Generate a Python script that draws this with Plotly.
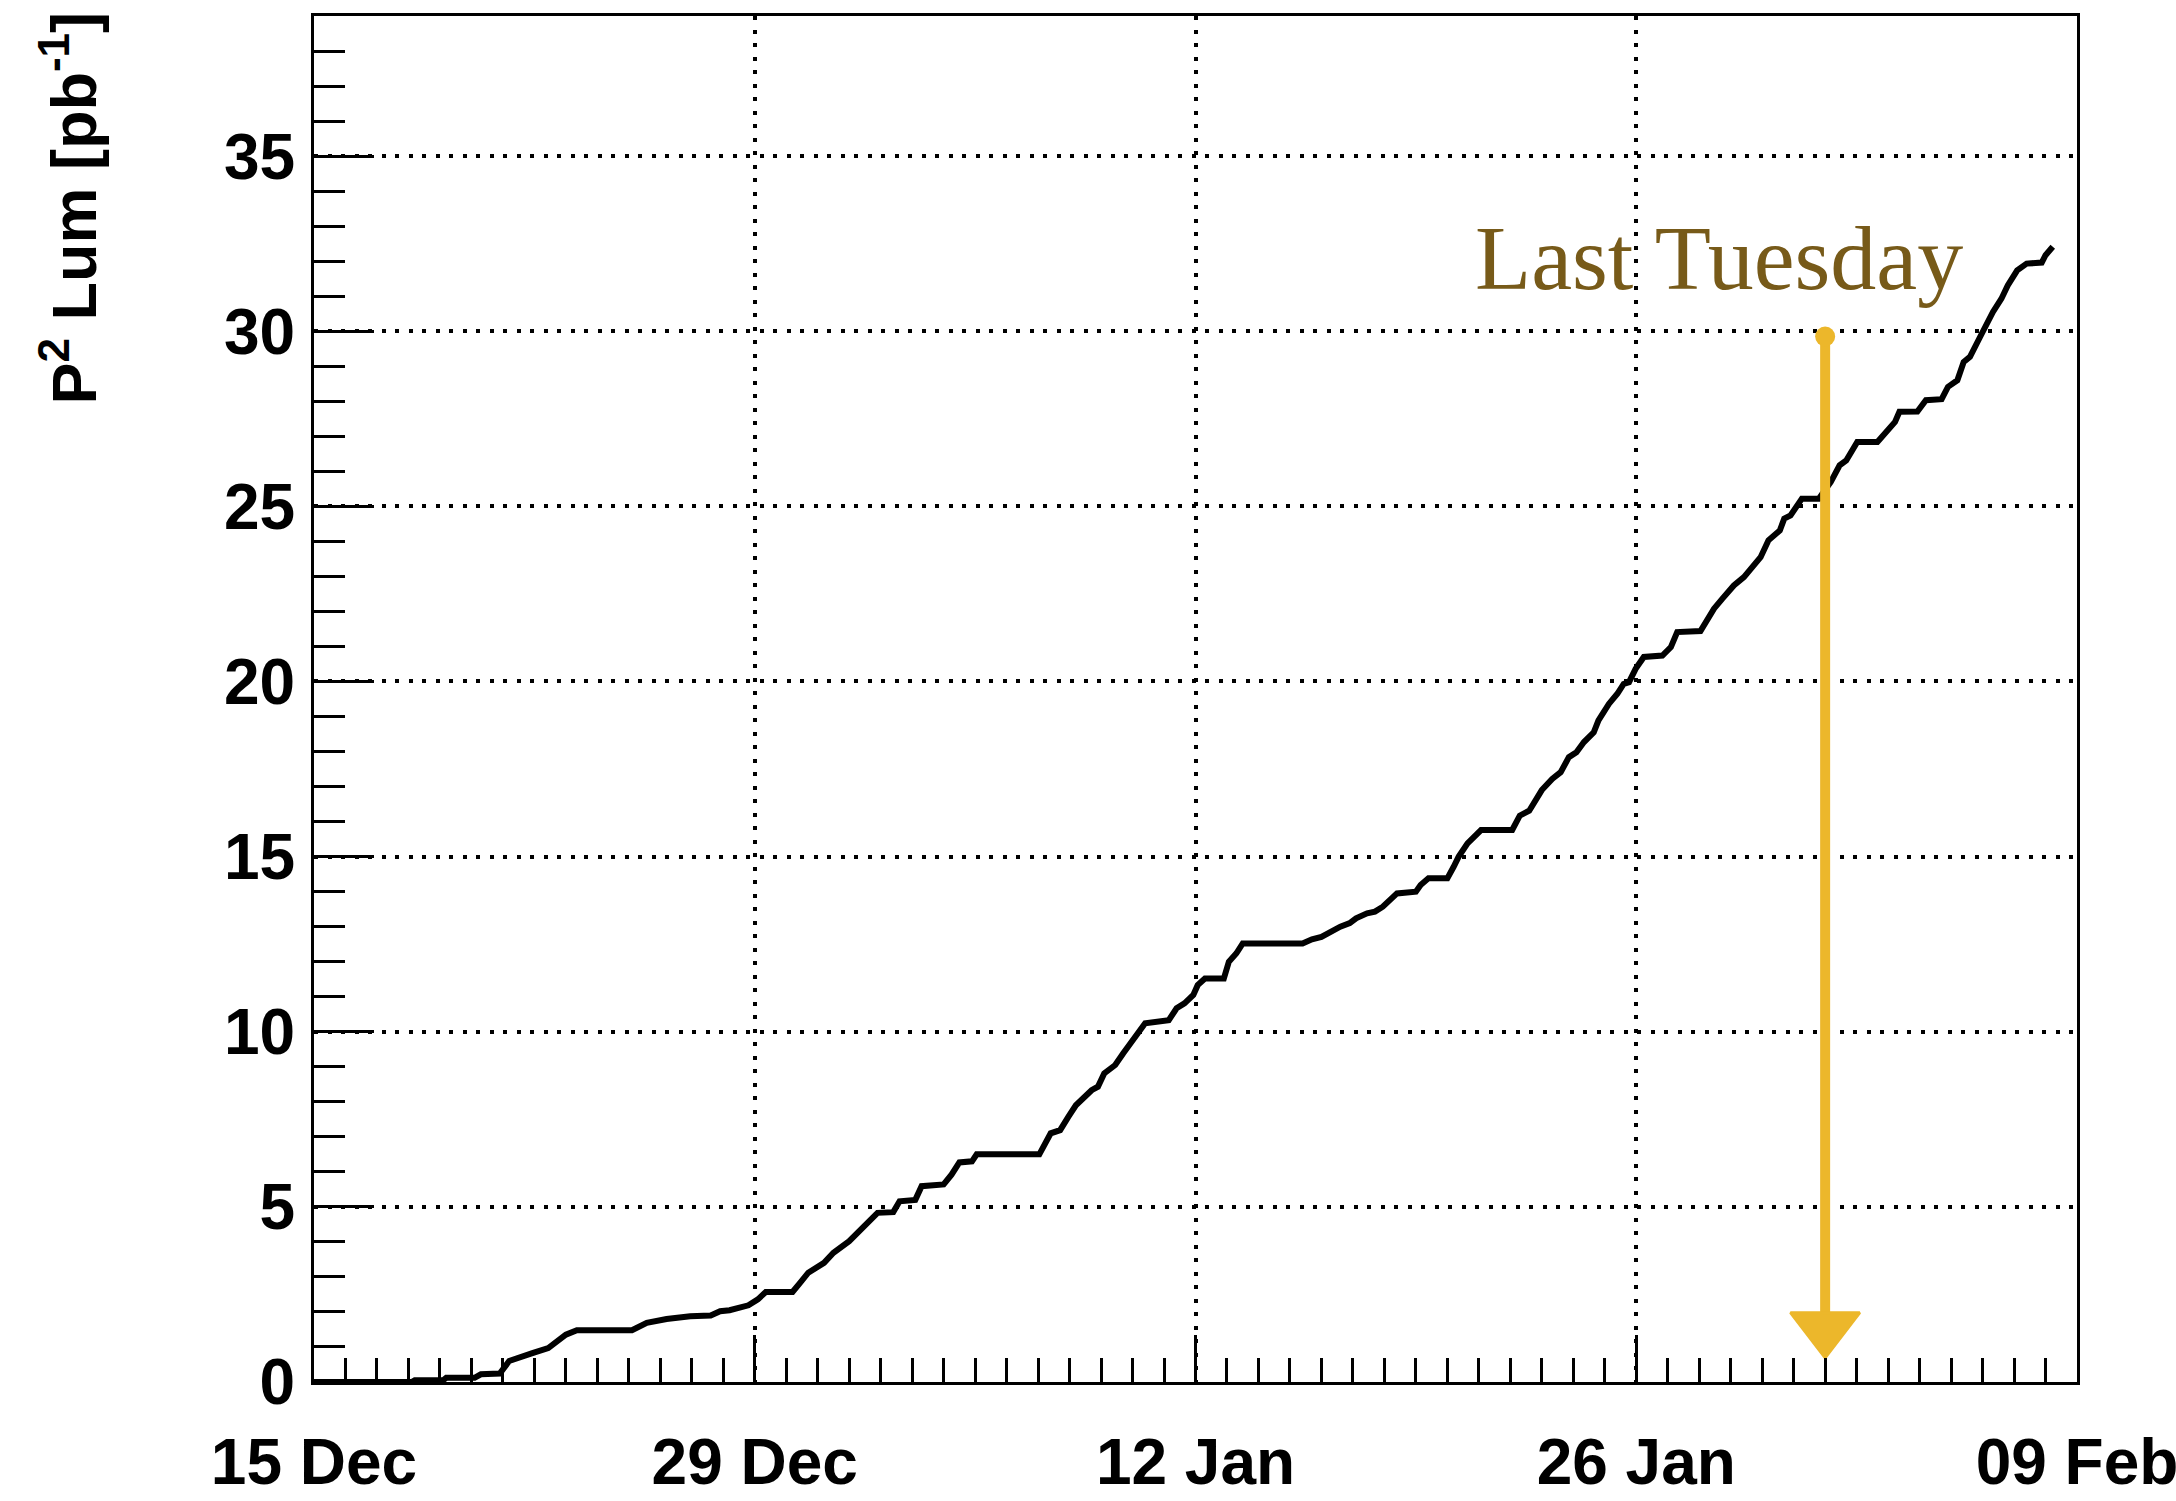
import pandas as pd
import plotly.graph_objects as go

# ---------------- data ----------------
START_DATE = "2021-12-15"
END_DATE = "2022-02-09"

# days since START_DATE and cumulative luminosity [pb^-1]
DAYS = [0, 3.1, 3.2, 4.1, 4.2, 5.1, 5.3, 5.9, 6.2, 6.55, 6.96, 7.44, 7.7, 8.0, 8.35,
        10.1, 10.57, 11.2, 11.95, 12.6, 12.9, 13.2, 13.8, 14.1, 14.35, 15.2, 15.4,
        15.7, 16.2, 16.5, 17.0, 17.3, 17.6, 17.9, 18.4, 18.6, 19.1, 19.3, 20.0,
        20.25, 20.5, 20.9, 21.05, 23.04, 23.4, 23.7, 23.96, 24.2, 24.7, 24.9, 25.1,
        25.45, 25.7, 26.1, 26.4, 27.15, 27.4, 27.65, 27.93, 28.07, 28.3, 28.9, 29.06,
        29.3, 29.5, 31.4, 31.7, 32.0, 32.3, 32.6, 32.9, 33.1, 33.45, 33.7, 33.95,
        34.16, 34.4, 35.0, 35.15, 35.4, 36.0, 36.2, 36.36, 36.64, 37.07, 38.06, 38.3,
        38.6, 38.8, 39.0, 39.33, 39.6, 39.86, 40.1, 40.34, 40.65, 40.8, 41.13, 41.4,
        41.6, 41.77, 41.98, 42.24, 42.83, 43.1, 43.3, 44.04, 44.26, 44.47, 44.73,
        45.1, 45.42, 45.69, 45.95, 46.2, 46.56, 46.7, 46.9, 47.26, 47.8, 48.18,
        48.46, 48.67, 49.02, 49.66, 49.94, 50.22, 50.36, 50.93, 51.2, 51.7, 51.9,
        52.2, 52.4, 52.6, 52.9, 53.1, 53.33, 53.6, 53.8, 54.1, 54.4, 54.88, 55.0,
        55.23]
LUMI = [0, 0, 0.05, 0.05, 0.12, 0.12, 0.22, 0.24, 0.6, 0.69, 0.83, 0.97, 1.16, 1.35, 1.48,
        1.48, 1.69, 1.8, 1.88, 1.9, 2.02, 2.05, 2.19, 2.36, 2.57, 2.57, 2.79,
        3.12, 3.4, 3.69, 4.02, 4.3, 4.54, 4.83, 4.85, 5.16, 5.2, 5.59, 5.64,
        5.92, 6.27, 6.3, 6.5, 6.5, 7.1, 7.19, 7.57, 7.9, 8.33, 8.43, 8.81,
        9.05, 9.38, 9.86, 10.24, 10.33, 10.67, 10.81, 11.05, 11.33, 11.52, 11.52, 12.0,
        12.24, 12.52, 12.52, 12.64, 12.71, 12.86, 13.0, 13.1, 13.24, 13.38, 13.43, 13.57,
        13.76, 13.95, 14.0, 14.19, 14.38, 14.38, 14.71, 15.0, 15.38, 15.76, 15.76, 16.17,
        16.31, 16.6, 16.9, 17.22, 17.41, 17.84, 17.98, 18.27, 18.55, 18.89, 19.36, 19.65,
        19.93, 19.98, 20.36, 20.7, 20.74, 20.98, 21.41, 21.44, 21.79, 22.08, 22.36,
        22.74, 22.98, 23.27, 23.55, 24.03, 24.31, 24.65, 24.74, 25.22, 25.22, 25.7,
        26.17, 26.31, 26.84, 26.84, 27.12, 27.41, 27.7, 27.71, 28.03, 28.06, 28.41,
        28.6, 29.12, 29.27, 29.8, 30.17, 30.55, 30.93, 31.31, 31.74, 31.93, 31.96, 32.17,
        32.41]

TICK_DATES = ["2021-12-15", "2021-12-29", "2022-01-12", "2022-01-26", "2022-02-09"]
TICK_LABELS = ["15 Dec", "29 Dec", "12 Jan", "26 Jan", "09 Feb"]

Y_RANGE = [0, 39]
Y_TITLE = "P<sup>2</sup> Lum [pb<sup>-1</sup>]"

ANNOT_TEXT = "Last Tuesday"
ANNOT_DATE = "2022-01-28 15:00"
ANNOT_Y = 32.1
ARROW_DATE = "2022-02-01"
ARROW_TOP = 29.85
ARROW_BOTTOM = 2.0
ARROW_HEAD_Y = 1.55

TEXT_COLOR = "#775a19"
ARROW_COLOR = "#ecb72b"

# ---------------- figure ----------------
dates = pd.to_datetime(START_DATE) + pd.to_timedelta(DAYS, unit="D")

fig = go.Figure()

fig.add_trace(go.Scatter(
    x=dates, y=LUMI, mode="lines",
    line=dict(color="black", width=6),
    hoverinfo="skip", showlegend=False,
))

# arrow (shaft, rounded top, head)
fig.add_trace(go.Scatter(
    x=[ARROW_DATE, ARROW_DATE], y=[ARROW_TOP, ARROW_BOTTOM], mode="lines",
    line=dict(color=ARROW_COLOR, width=10), showlegend=False, hoverinfo="skip",
))
fig.add_trace(go.Scatter(
    x=[ARROW_DATE], y=[ARROW_TOP], mode="markers",
    marker=dict(symbol="circle", size=20, color=ARROW_COLOR, line=dict(width=0)),
    showlegend=False, hoverinfo="skip",
))
fig.add_trace(go.Scatter(
    x=[ARROW_DATE], y=[ARROW_HEAD_Y], mode="markers",
    marker=dict(symbol="triangle-down", size=60, color=ARROW_COLOR,
                line=dict(width=3, color=ARROW_COLOR)),
    showlegend=False, hoverinfo="skip",
))

tick_font = dict(family="Liberation Sans, Arial, sans-serif", size=64, color="black", weight="bold")
grid_dash = "4px,9.5px"

fig.update_xaxes(
    type="date",
    range=[START_DATE, END_DATE],
    tickvals=TICK_DATES, ticktext=TICK_LABELS,
    ticks="inside", ticklen=47, tickwidth=3, tickcolor="black",
    minor=dict(dtick=86400000, tick0=START_DATE, ticks="inside", ticklen=24,
               tickwidth=3, tickcolor="black", showgrid=False),
    showgrid=True, gridcolor="black", gridwidth=3.5, griddash=grid_dash,
    showline=True, linecolor="black", linewidth=3, mirror=True,
    tickfont=tick_font, ticklabelstandoff=22, ticklabeloverflow="allow",
    zeroline=False, automargin=False,
)
fig.update_yaxes(
    range=Y_RANGE, dtick=5, tick0=0,
    ticks="inside", ticklen=60, tickwidth=3, tickcolor="black",
    minor=dict(dtick=1, ticks="inside", ticklen=31, tickwidth=3,
               tickcolor="black", showgrid=False),
    showgrid=True, gridcolor="black", gridwidth=3.5, griddash=grid_dash,
    showline=True, linecolor="black", linewidth=3, mirror=True,
    tickfont=tick_font, ticklabelstandoff=3,
    zeroline=False, automargin=False,
)

fig.add_annotation(
    text=Y_TITLE, textangle=-90,
    xref="paper", yref="paper", x=-0.139, y=1.005,
    xanchor="center", yanchor="top", showarrow=False,
    font=dict(family="Liberation Sans, Arial, sans-serif", size=63, color="black", weight="bold"),
)
fig.add_annotation(
    text=ANNOT_TEXT, xref="x", yref="y", x=ANNOT_DATE, y=ANNOT_Y,
    xanchor="center", yanchor="middle", showarrow=False,
    font=dict(family="Liberation Serif, Times New Roman, serif", size=92, color=TEXT_COLOR),
)

fig.update_layout(
    width=2176, height=1501,
    margin=dict(l=314, r=99, t=16, b=119, autoexpand=False),
    paper_bgcolor="white", plot_bgcolor="white",
    showlegend=False,
)

fig.write_html("out.html", config={"displayModeBar": False},
               post_script="document.body.style.margin='0';")
